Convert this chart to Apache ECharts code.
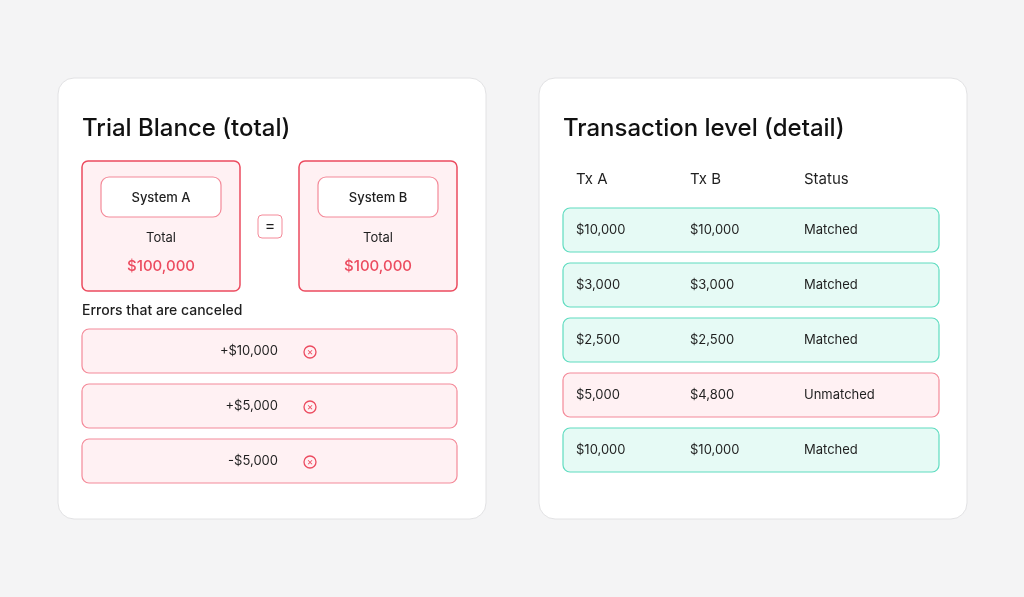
<!DOCTYPE html>
<html><head><meta charset="utf-8">
<script src="https://cdn.jsdelivr.net/npm/echarts@6/dist/echarts.min.js"></script>
<style>html,body{margin:0;padding:0;background:#f4f4f5}#c{width:1024px;height:597px}</style>
</head><body><div id="c"></div>
<script>
const leftTitle = "Trial Blance (total)";
const rightTitle = "Transaction level (detail)";
const systems = ["System A", "System B"];
const systemTotals = ["$100,000", "$100,000"];
const errorsLabel = "Errors that are canceled";
const errors = ["+$10,000", "+$5,000", "-$5,000"];
const headers = ["Tx A", "Tx B", "Status"];
const txA = ["$10,000", "$3,000", "$2,500", "$5,000", "$10,000"];
const txB = ["$10,000", "$3,000", "$2,500", "$4,800", "$10,000"];
const status = ["Matched", "Matched", "Matched", "Unmatched", "Matched"];

const F = "Inter, 'Noto Sans', sans-serif";
const RED = '#ec4b5f', PINKF = '#fff1f3', PINKS = '#f48a99';
const GF = '#e6faf5', GS = '#5fdcc0', TXT = '#1f1f1f';
const g = [];
const rect = (x,y,w,h,r,fill,stroke,lw) => g.push({type:'rect',shape:{x,y,width:w,height:h,r},style:{fill,stroke,lineWidth:lw||1}});
const text = (x,y,t,size,color,align,weight) => g.push({type:'text',x,y,style:{text:t,font:`${weight||400} ${size}px ${F}`,fill:color||TXT,align:align||'left',verticalAlign:'middle'}});

g.push({type:'rect',shape:{x:0,y:0,width:1024,height:597},style:{fill:'#f4f4f5'}});
rect(58,78,428,441,16,'#fff','#e2e2e4',1);
rect(539,78,428,441,16,'#fff','#e2e2e4',1);
text(82,129,leftTitle,24,'#111','left',500);
text(563,129,rightTitle,24,'#111','left',500);

systems.forEach((s,i)=>{
  const x = 82 + i*217;
  rect(x,161,158,130,6,PINKF,RED,1.5);
  rect(x+19,177,120,40,8,'#fff',PINKS,1.2);
  text(x+79,198,s,13,TXT,'center',500);
  text(x+79,238,'Total',13,TXT,'center');
  text(x+79,266,systemTotals[i],15,RED,'center',500);
});
rect(258,215,24,23,4,'#fff',PINKS,1);
text(270,226.5,'=',16,TXT,'center');
text(82,311,errorsLabel,14,TXT,'left',500);

errors.forEach((e,i)=>{
  const y = 329 + i*55;
  rect(82,y,375,44,7,PINKF,PINKS,1.2);
  text(278,y+22,e,13,TXT,'right');
  g.push({type:'circle',shape:{cx:310,cy:y+23,r:6},style:{fill:'none',stroke:RED,lineWidth:1.3}});
  g.push({type:'text',x:310,y:y+23,style:{text:'×',font:`400 10px ${F}`,fill:RED,align:'center',verticalAlign:'middle'}});
});

const colX = [576,690,804];
headers.forEach((h,i)=>text(colX[i],179,h,15,TXT,'left'));
status.forEach((s,i)=>{
  const y = 208 + i*55;
  const bad = s !== 'Matched';
  rect(563,y,376,44,7,bad?PINKF:GF,bad?PINKS:GS,1.2);
  text(colX[0],y+22,txA[i],13,TXT);
  text(colX[1],y+22,txB[i],13,TXT);
  text(colX[2],y+22,s,13,TXT);
});

const chart = echarts.init(document.getElementById('c'));
chart.setOption({animation:false, graphic:{elements:g}});
</script></body></html>
